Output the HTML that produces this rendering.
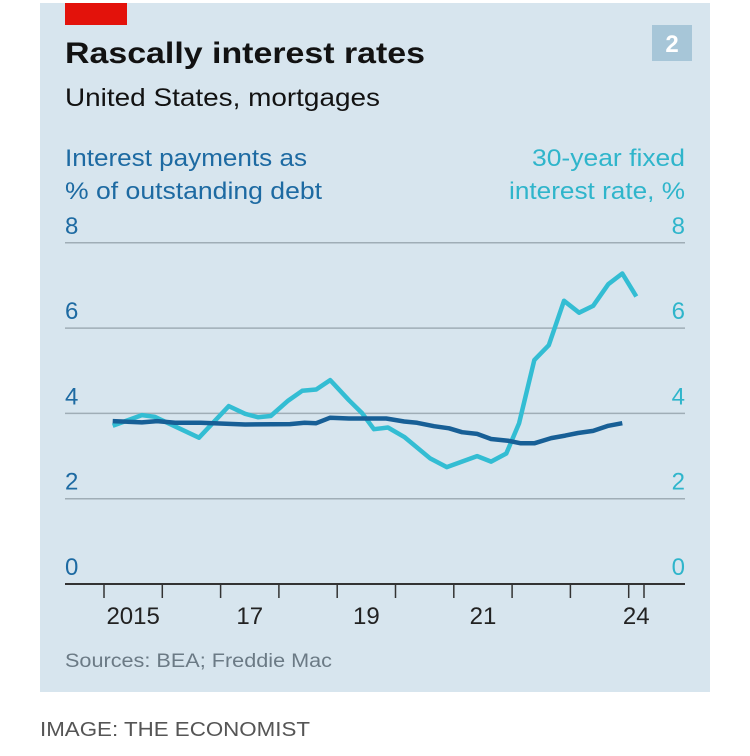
<!DOCTYPE html>
<html><head><meta charset="utf-8"><style>
html,body{margin:0;padding:0;background:#fff;}
svg{display:block;font-family:"Liberation Sans Narrow","Liberation Sans",sans-serif;}
</style></head><body>
<svg id="chart" width="750" height="756" viewBox="0 0 750 756">
<rect x="40" y="3" width="670" height="689" fill="#d7e5ee"/>
<rect x="65" y="3" width="62" height="22" fill="#e3120b"/>
<rect x="652" y="25" width="40" height="36" fill="#a7c6d8"/>
<text x="672" y="52" text-anchor="middle" font-size="24" font-weight="bold" fill="#fff">2</text>
<text x="65" y="63" font-size="30" font-weight="bold" fill="#121212" textLength="360" lengthAdjust="spacingAndGlyphs">Rascally interest rates</text>
<text x="65" y="106" font-size="25" fill="#121212" textLength="315" lengthAdjust="spacingAndGlyphs">United States, mortgages</text>
<text x="65" y="166" font-size="24" fill="#1d6aa2" textLength="242" lengthAdjust="spacingAndGlyphs">Interest payments as</text>
<text x="65" y="199" font-size="24" fill="#1d6aa2" textLength="257" lengthAdjust="spacingAndGlyphs">% of outstanding debt</text>
<text x="685" y="166" font-size="24" fill="#2fb5cb" text-anchor="end" textLength="153" lengthAdjust="spacingAndGlyphs">30-year fixed</text>
<text x="685" y="199" font-size="24" fill="#2fb5cb" text-anchor="end" textLength="176" lengthAdjust="spacingAndGlyphs">interest rate, %</text>
<g id="grid"></g>
<g id="series"></g>
<g id="xaxis"></g>
<text x="65" y="667" font-size="19" fill="#6b7a85" textLength="267" lengthAdjust="spacingAndGlyphs">Sources: BEA; Freddie Mac</text>
<text x="40" y="736" font-size="20" fill="#555" font-family="Liberation Sans, sans-serif" textLength="270" lengthAdjust="spacingAndGlyphs">IMAGE: THE ECONOMIST</text>
</svg>
<script>
const yTicks = [0, 2, 4, 6, 8];
const yearTicks = [2015, 2016, 2017, 2018, 2019, 2020, 2021, 2022, 2023, 2024];
const yearLabels = ["2015", "17", "19", "21", "24"];
const yearLabelPos = [2015.5, 2017.5, 2019.5, 2021.5, 2024.13];
const rateDates = [2015.15,2015.65,2015.87,2016.63,2017.14,2017.42,2017.64,2017.86,2018.16,2018.40,2018.64,2018.88,2019.20,2019.43,2019.63,2019.87,2020.15,2020.59,2020.88,2021.40,2021.64,2021.90,2022.12,2022.38,2022.63,2022.89,2023.15,2023.39,2023.65,2023.89,2024.13];
const rateValues = [3.71,3.96,3.92,3.43,4.17,3.99,3.91,3.94,4.30,4.53,4.56,4.78,4.31,4.00,3.63,3.67,3.45,2.95,2.74,3.00,2.87,3.06,3.77,5.25,5.60,6.64,6.36,6.52,7.03,7.28,6.74];
const payDates = [2015.15,2015.65,2015.91,2016.22,2016.66,2017.42,2018.19,2018.44,2018.64,2018.88,2019.20,2019.84,2020.15,2020.37,2020.66,2020.92,2021.14,2021.40,2021.64,2021.93,2022.15,2022.38,2022.67,2022.91,2023.13,2023.39,2023.65,2023.89];
const payValues = [3.82,3.79,3.82,3.78,3.78,3.74,3.75,3.78,3.77,3.90,3.88,3.88,3.81,3.78,3.70,3.65,3.56,3.52,3.40,3.36,3.30,3.30,3.42,3.48,3.54,3.59,3.71,3.77];

const NS = "http://www.w3.org/2000/svg";
const X0 = 104, PX_PER_YEAR = 58.3;
const xScale = t => X0 + (t - 2015) * PX_PER_YEAR;
const yScale = v => 584 - v * 42.65;
function mk(tag, attrs, parent){const e=document.createElementNS(NS,tag);for(const k in attrs)e.setAttribute(k,attrs[k]);parent.appendChild(e);return e;}

const grid = document.getElementById('grid');
yTicks.forEach(v => {
  const y = yScale(v);
  if (v > 0) {
    const l = mk('line', {x1:65, x2:685, y1:y, y2:y, stroke:'#9fadb6', 'stroke-width':1.5}, grid);
    
    
  }
  const tl = mk('text', {x:65, y:y-9, 'font-size':24, fill:'#1d6aa2'}, grid);
  tl.textContent = v;
  
  
  const tr = mk('text', {x:685, y:y-9, 'font-size':24, fill:'#2fb5cb', 'text-anchor':'end'}, grid);
  tr.textContent = v;
  
  
});

const series = document.getElementById('series');
function line(dates, vals, color, name){
  const d = dates.map((t,i)=>(i?'L':'M')+xScale(t).toFixed(1)+','+yScale(vals[i]).toFixed(1)).join(' ');
  const p = mk('path', {d:d, fill:'none', stroke:color, 'stroke-width':4.5, 'stroke-linejoin':'round'}, series);
  
  
}
line(rateDates, rateValues, '#33bdd3', 'fixed-rate-line');
line(payDates, payValues, '#175f96', 'interest-payments-line');

const xa = document.getElementById('xaxis');
const axis = mk('line', {x1:65, x2:685, y1:584, y2:584, stroke:'#333', 'stroke-width':2}, xa);


yearTicks.forEach(t => {
  const tk = mk('line', {x1:xScale(t), x2:xScale(t), y1:584, y2:598, stroke:'#333', 'stroke-width':1.5}, xa);
  
  
});
const endTick = mk('line', {x1:644, x2:644, y1:584, y2:598, stroke:'#333', 'stroke-width':1.5}, xa);


yearLabels.forEach((s,i) => {
  const t = mk('text', {x:xScale(yearLabelPos[i]), y:624, 'font-size':24, fill:'#222', 'text-anchor':'middle'}, xa);
  t.textContent = s;
  
  
});
</script>
</body></html>
